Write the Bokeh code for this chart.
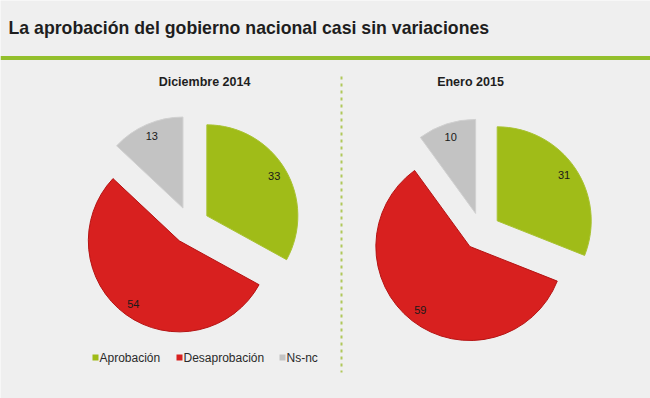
import math
from bokeh.plotting import figure
from bokeh.models import Range1d, Span, Label
from bokeh.embed import file_html
from bokeh.resources import INLINE

# ---- data ----
title_text = "La aprobación del gobierno nacional casi sin variaciones"
categories = ["Aprobación", "Desaprobación", "Ns-nc"]
colors = ["#a0bc18", "#d8201f", "#c3c3c3"]
line_colors = ["#a8c232", "#b51414", "#d0d0d0"]
panel_titles = ["Diciembre 2014", "Enero 2015"]
dic_2014 = [33, 54, 13]
ene_2015 = [31, 59, 10]

W, H = 650, 398
BG = "#efefef"

p = figure(width=W, height=H, output_backend="svg", toolbar_location=None,
           x_range=Range1d(0, W), y_range=Range1d(0, H), min_border=0)
p.axis.visible = False
p.grid.visible = False
p.outline_line_color = None
p.background_fill_color = BG
p.border_fill_color = BG


def py(y_img):
    return H - y_img


def px(x_img):
    return x_img


# title
p.add_layout(Label(x=px(8), y=py(27), text=title_text, text_font="Liberation Sans",
                   text_font_style="bold", text_font_size="17.7px", text_color="#1e1e1e",
                   text_baseline="middle", text_align="left"))
# green rule
p.add_layout(Span(location=py(57.5), dimension="width", line_color="#93bf2c", line_width=4))
# dashed separator
p.segment(x0=[px(341)], y0=[py(76)], x1=[px(341)], y1=[py(372)],
          line_color="#b0c85a", line_width=2, line_dash="3 4")

pies = [
    (panel_titles[0], dic_2014, (190, 225), 91, (204, 81)),
    (panel_titles[1], ene_2015, (481, 231), 94, (470, 81)),
]
EXPLODE = 19

for ptitle, vals, (cx_img, cy_img), r, (tx, ty) in pies:
    cx, cy = px(cx_img), py(cy_img)
    p.add_layout(Label(x=px(tx), y=py(ty), text=ptitle, text_font="Liberation Sans",
                       text_font_style="bold", text_font_size="12.5px", text_color="#1e1e1e",
                       text_align="center", text_baseline="middle"))
    total = float(sum(vals))
    theta = 0.0  # clockwise from 12 o'clock, degrees
    for v, c, lc in zip(vals, colors, line_colors):
        span = 360.0 * v / total
        t1, t2 = theta, theta + span
        mid = math.radians((t1 + t2) / 2)
        ox = cx + EXPLODE * math.sin(mid)
        oy = cy + EXPLODE * math.cos(mid)
        p.wedge(x=[ox], y=[oy], radius=r,
                start_angle=math.radians(90 - t2), end_angle=math.radians(90 - t1),
                fill_color=c, line_color=lc, line_width=1)
        lx = ox + 0.86 * r * math.sin(mid)
        ly = oy + 0.86 * r * math.cos(mid)
        p.text(x=[lx], y=[ly], text=[str(v)], text_font_size="11px",
               text_color="#1a1a1a", text_align="center", text_baseline="middle",
               text_font={"value": "Liberation Sans"})
        theta = t2

# legend
leg_x = [93, 177, 280]
for lxp, cat, c in zip(leg_x, categories, colors):
    p.scatter(x=[px(lxp) + 2], y=[py(357)], marker="square", size=6,
              fill_color=c, line_color=None)
    p.add_layout(Label(x=px(lxp) + 6, y=py(357), text=cat, text_font="Liberation Sans",
                       text_font_size="12px", text_color="#2a2a2a",
                       text_baseline="middle", text_align="left"))

open("out.html", "w").write(file_html(p, INLINE))
